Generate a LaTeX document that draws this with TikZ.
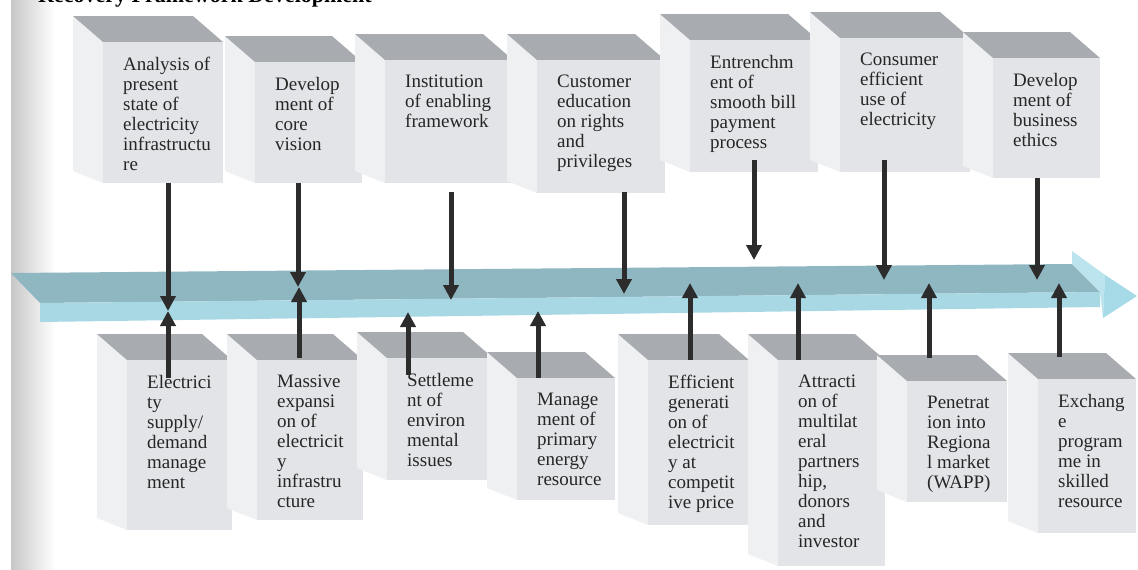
\documentclass[tikz,border=0pt]{standalone}
\usepackage{fontspec}
\setmainfont{Liberation Serif}
\usetikzlibrary{arrows.meta}
\definecolor{frontcol}{HTML}{E2E4E7}
\definecolor{topcol}{HTML}{A8ACB1}
\definecolor{sidecol}{HTML}{EEF0F2}
\definecolor{txtcol}{HTML}{262626}
\definecolor{linecol}{HTML}{2C2C2C}
\definecolor{shafttop}{HTML}{8FB7C2}
\definecolor{shaftfront}{HTML}{A9D8E5}
\definecolor{headback}{HTML}{BCE4EE}
\definecolor{headfront}{HTML}{A6DAE7}
\newcommand\cubebox[6]{%
  \fill[sidecol] ({#2-30},{#4-26}) -- (#2,#4) -- (#2,#5) -- ({#2-30},{#5-12}) -- cycle;
  \fill[topcol] ({#2-30},{#4-26}) -- ({#3-30},{#4-26}) -- (#3,#4) -- (#2,#4) -- cycle;
  \fill[frontcol] (#2,#4) rectangle (#3,#5);
  \node[boxtext] (#1) at ({#2+20},{#4+15}) {#6};
}
\tikzset{
  boxtext/.style={anchor=north west, inner sep=0pt, align=left, text=txtcol,
    font=\fontsize{19}{20}\selectfont},
  conn/.style={draw=linecol, line width=5pt, -{Triangle[length=15pt,width=15pt]}},
}
\begin{document}
\begin{tikzpicture}[x=1pt, y=-1pt]
\useasboundingbox (0,0) rectangle (1138,570);
\fill[white] (0,0) rectangle (1138,570);
\shade[left color=black!22, right color=white] (11,0) rectangle (55,570);
\node[anchor=base west, inner sep=0pt, font=\bfseries\fontsize{22}{24}\selectfont] (title) at (38,2) {Recovery Framework Development};

% main arrow
\fill[shafttop] (11,273) -- (1072,264) -- (1100,292) -- (40,303) -- cycle;
\fill[shaftfront] (40,303) -- (1100,292) -- (1100,307) -- (40,322) -- cycle;
\fill[headback] (1072,251) -- (1105,275) -- (1103,318) -- (1100,292) -- (1072,264) -- cycle;
\fill[headfront] (1105,275) -- (1137,296) -- (1103,318) -- cycle;

% top row
\cubebox{t1}{103}{223}{42}{183}{Analysis of\\present\\state of\\electricity\\infrastructu\\re}
\cubebox{t2}{255}{362}{62}{183}{Develop\\ment of\\core\\vision}
\cubebox{t3}{385}{513}{60}{183}{Institution\\of enabling\\framework}
\cubebox{t4}{537}{665}{60}{193}{Customer\\education\\on rights\\and\\privileges}
\cubebox{t5}{690}{818}{40}{172}{Entrenchm\\ent of\\smooth bill\\payment\\process}
\cubebox{t6}{840}{970}{38}{172}{Consumer\\efficient\\use of\\electricity}
\cubebox{t7}{993}{1100}{58}{178}{Develop\\ment of\\business\\ethics}

% bottom row
\cubebox{b1}{127}{232}{360}{530}{Electrici\\ty\\supply/\\demand\\manage\\ment}
\cubebox{b2}{257}{363}{360}{520}{Massive\\expansi\\on of\\electricit\\y\\infrastru\\cture}
\cubebox{b3}{387}{493}{358}{480}{Settleme\\nt of\\environ\\mental\\issues}
\cubebox{b4}{517}{615}{378}{500}{Manage\\ment of\\primary\\energy\\resource}
\cubebox{b5}{648}{749}{360}{525}{Efficient\\generati\\on of\\electricit\\y at\\competit\\ive price}
\cubebox{b6}{778}{885}{360}{566}{Attracti\\on of\\multilat\\eral\\partners\\hip,\\donors\\and\\investor}
\cubebox{b7}{907}{1007}{381}{502}{Penetrat\\ion into\\Regiona\\l market\\(WAPP)}
\cubebox{b8}{1038}{1136}{379}{533}{Exchang\\e\\program\\me in\\skilled\\resource}

% connector end points
\coordinate (t1s) at (168,183); \coordinate (t1e) at (168,311);
\coordinate (t2s) at (298,183); \coordinate (t2e) at (298,287);
\coordinate (t3s) at (451,192); \coordinate (t3e) at (451,300);
\coordinate (t4s) at (624,192); \coordinate (t4e) at (624,294);
\coordinate (t5s) at (754,160); \coordinate (t5e) at (754,260);
\coordinate (t6s) at (884,160); \coordinate (t6e) at (884,280);
\coordinate (t7s) at (1037,178); \coordinate (t7e) at (1037,280);
\coordinate (b1s) at (168,378); \coordinate (b1e) at (168,311);
\coordinate (b2s) at (299,358); \coordinate (b2e) at (299,287);
\coordinate (b3s) at (408,375); \coordinate (b3e) at (408,312);
\coordinate (b4s) at (538,378); \coordinate (b4e) at (538,311);
\coordinate (b5s) at (690,360); \coordinate (b5e) at (690,283);
\coordinate (b6s) at (798,360); \coordinate (b6e) at (798,283);
\coordinate (b7s) at (929,358); \coordinate (b7e) at (929,283);
\coordinate (b8s) at (1059,357); \coordinate (b8e) at (1059,283);

\foreach \n in {t1,t2,t3,t4,t5,t6,t7,b1,b2,b3,b4,b5,b6,b7,b8}
  \draw[conn] (\n s) -- (\n e);
\end{tikzpicture}
\end{document}
